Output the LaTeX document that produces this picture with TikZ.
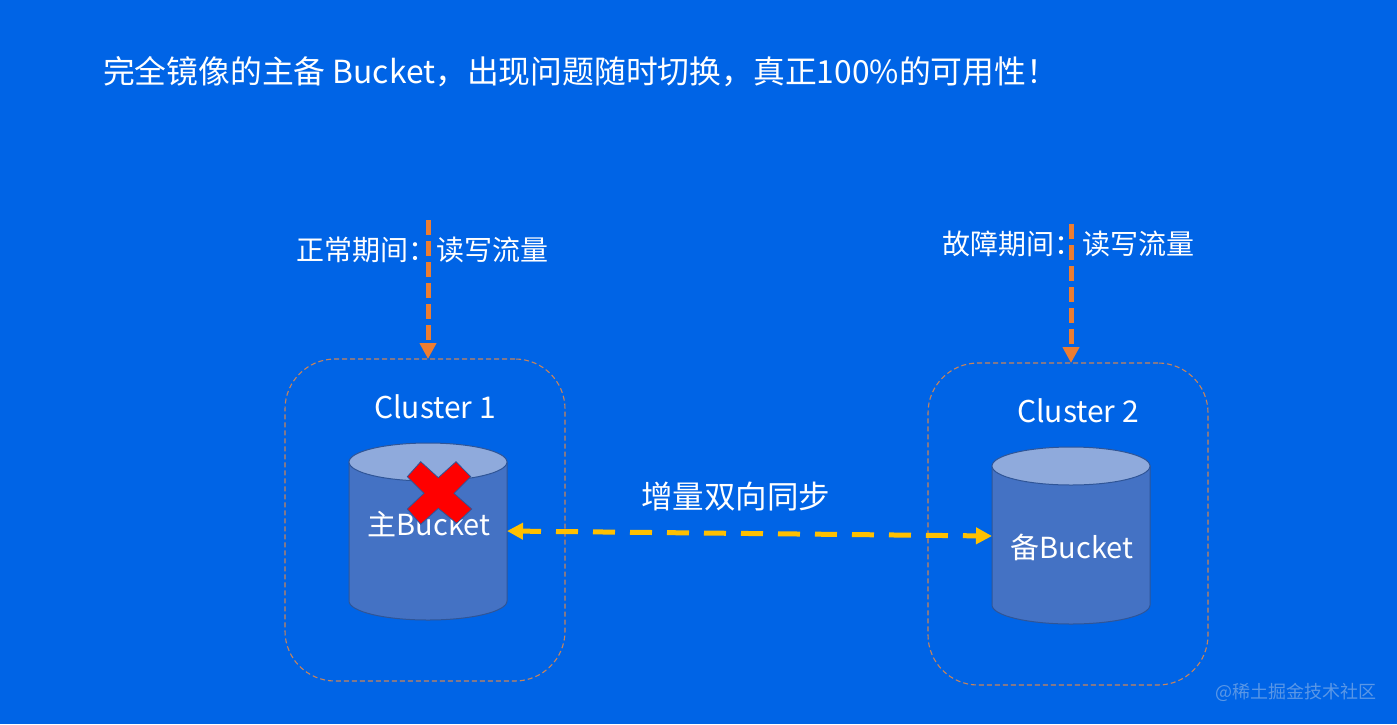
\documentclass[tikz,border=0pt]{standalone}
\usepackage{fontspec}
\setmainfont{Noto Sans CJK SC}
\usetikzlibrary{arrows.meta}
\definecolor{bgblue}{HTML}{0064E6}
\definecolor{cylbody}{HTML}{4472C4}
\definecolor{cyltop}{HTML}{8FAADC}
\definecolor{cyledge}{HTML}{2F5597}
\definecolor{flow}{HTML}{ED7D31}
\definecolor{sync}{HTML}{FFC000}
\definecolor{clusteredge}{HTML}{C8845A}
\definecolor{wmark}{HTML}{5A97E6}
\tikzset{
  txt/.style={text=white,inner sep=0pt,outer sep=0pt,anchor=center},
  clusterbox/.style={draw=clusteredge,line width=1.1pt,dash pattern=on 5pt off 3pt,rounded corners=50pt,
    minimum width=280pt,minimum height=322pt,inner sep=0pt,outer sep=0pt},
  bucketlabel/.style={txt,minimum width=158pt,font=\fontsize{29}{32}\selectfont},
  flowarrow/.style={draw=flow,line width=5pt,dash pattern=on 15pt off 6pt,-{Triangle[length=16pt,width=16pt,fill=flow]}},
  syncarrow/.style={draw=sync,line width=5pt,dash pattern=on 22pt off 15pt,dash phase=3pt,
    {Triangle[length=16pt,width=16pt,fill=sync]}-{Triangle[length=16pt,width=16pt,fill=sync]}},
  cylside/.style={fill=cylbody,draw=cyledge,line width=1pt},
  cyllid/.style={fill=cyltop,draw=cyledge,line width=1pt},
}
\begin{document}
\begin{tikzpicture}[x=1pt,y=-1pt]
\useasboundingbox (0,0) rectangle (1397,724);
\fill[bgblue] (0,0) rectangle (1397,724);
% title
\node[txt,anchor=west,font=\fontsize{31.8}{36}\selectfont] (title) at (103,72) {完全镜像的主备 Bucket，出现问题随时切换，真正100\%的可用性！};
% clusters
\node[clusterbox] (c1) at (425,520) {};
\node[clusterbox] (c2) at (1068,524) {};
\node[txt,font=\fontsize{30}{34}\selectfont] (c1t) at (435,406.5) {Cluster 1};
\node[txt,font=\fontsize{30}{34}\selectfont] (c2t) at (1078,410.5) {Cluster 2};
% cylinders
\path[cylside] (349,462) -- (349,601) arc[start angle=180,end angle=0,x radius=79,y radius=19] -- (507,462) -- cycle;
\path[cyllid] (428,462) ellipse[x radius=79,y radius=19];
\path[cylside] (992,466) -- (992,605) arc[start angle=180,end angle=0,x radius=79,y radius=19] -- (1150,466) -- cycle;
\path[cyllid] (1071,466) ellipse[x radius=79,y radius=19];
\node[bucketlabel] (b1) at (429,524) {主Bucket};
\node[bucketlabel] (b2) at (1072,547) {备Bucket};
% anchors for the sync arrow at the cylinder walls
\coordinate (s1) at (507,531);
\coordinate (s2) at (992,536);
% cross
\path[fill=red,draw=cyledge,line width=0.8pt] (420.7,461.7) -- (438.3,477.7) -- (456,461.7) -- (470.7,476.7) -- (454,493.3) -- (471.7,509) -- (456.7,523.3) -- (438.3,508.3) -- (420.7,524.3) -- (407.3,509) -- (424,493.3) -- (407.3,476.7) -- cycle;
% flow
\coordinate (f1) at (428,220);
\coordinate (f2) at (1071,224);
\draw[flowarrow] (f1) -- (c1.north -| f1);
\draw[flowarrow] (f2) -- (c2.north -| f2);
\node[txt,font=\fontsize{28}{32}\selectfont] (l1) at (422,250) {正常期间：读写流量};
\node[txt,font=\fontsize{28}{32}\selectfont] (l2) at (1068,244) {故障期间：读写流量};
% sync
\draw[syncarrow] (s1) -- (s2);
\node[txt,font=\fontsize{31.5}{36}\selectfont] (sl) at (735.5,497) {增量双向同步};
% watermark
\node[txt,text=wmark,font=\fontsize{18}{20}\selectfont] (wm) at (1295.5,692) {@稀土掘金技术社区};
\end{tikzpicture}
\end{document}
